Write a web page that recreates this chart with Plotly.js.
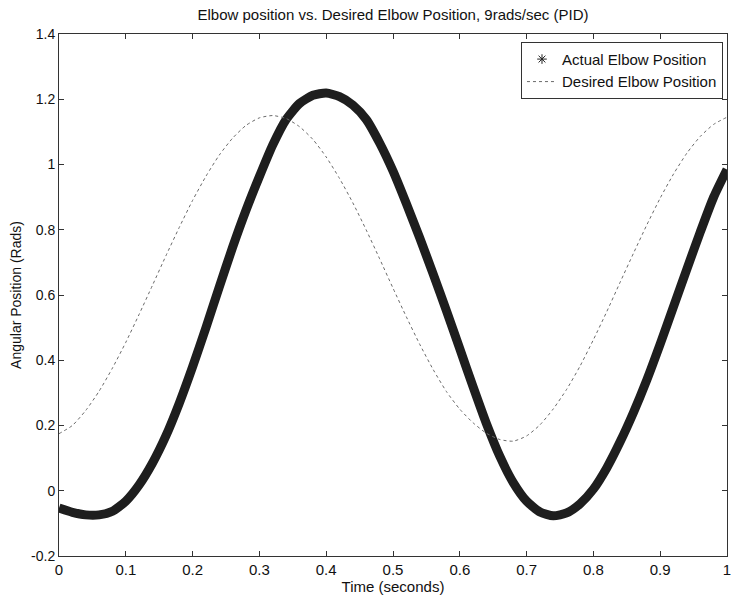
<!DOCTYPE html>
<html>
<head>
<meta charset="utf-8">
<script src="https://cdn.plot.ly/plotly-3.0.1.min.js"></script>
<style>
html,body{margin:0;padding:0;background:#fff;}
#chart{width:731px;height:604px;}
</style>
</head>
<body>
<div id="chart"></div>
<script>
// Time samples (seconds)
const time = [0,0.02,0.04,0.06,0.08,0.10,0.12,0.14,0.16,0.18,0.20,0.22,0.24,0.26,0.28,0.30,0.32,0.34,0.36,0.38,0.40,0.42,0.44,0.46,0.48,0.50,0.52,0.54,0.56,0.58,0.60,0.62,0.64,0.66,0.68,0.70,0.72,0.74,0.76,0.78,0.80,0.82,0.84,0.86,0.88,0.90,0.92,0.94,0.96,0.98,1.00];

// Actual elbow position (rads)
const actualPos = [-0.053,-0.066,-0.074,-0.074,-0.063,-0.032,0.018,0.085,0.168,0.268,0.380,0.500,0.625,0.747,0.860,0.963,1.060,1.138,1.187,1.212,1.219,1.208,1.182,1.138,1.066,0.980,0.880,0.775,0.665,0.552,0.435,0.318,0.205,0.105,0.025,-0.032,-0.065,-0.077,-0.068,-0.040,0.005,0.070,0.150,0.240,0.340,0.450,0.565,0.680,0.793,0.900,0.985];

// Desired elbow position (rads)
const desiredPos = [0.175,0.200,0.246,0.305,0.376,0.455,0.541,0.630,0.720,0.807,0.890,0.964,1.029,1.081,1.120,1.143,1.150,1.141,1.116,1.077,1.023,0.957,0.882,0.799,0.711,0.621,0.533,0.449,0.372,0.304,0.250,0.208,0.176,0.157,0.152,0.168,0.202,0.251,0.311,0.382,0.463,0.549,0.639,0.728,0.815,0.897,0.971,1.035,1.086,1.123,1.145];

const xTickVals = [0,0.1,0.2,0.3,0.4,0.5,0.6,0.7,0.8,0.9,1];
const xTickText = ['0','0.1','0.2','0.3','0.4','0.5','0.6','0.7','0.8','0.9','1'];
const yTickVals = [-0.2,0,0.2,0.4,0.6,0.8,1,1.2,1.4];
const yTickText = ['-0.2','0','0.2','0.4','0.6','0.8','1','1.2','1.4'];

const FONT = 'Arial, "Liberation Sans", sans-serif';

const traces = [
  {
    x: time, y: actualPos, type: 'scatter', mode: 'lines',
    line: {color: '#1e1e1e', width: 9, shape: 'spline', smoothing: 0.6},
    showlegend: false, hoverinfo: 'skip'
  },
  {
    x: [null], y: [null], type: 'scatter', mode: 'markers',
    name: 'Actual Elbow Position',
    marker: {symbol: 'asterisk-open', size: 8, color: '#222', line: {color: '#222', width: 1}}
  },
  {
    x: time, y: desiredPos, type: 'scatter', mode: 'lines',
    name: 'Desired Elbow Position',
    line: {color: '#6a6a6a', width: 1, dash: 'dot', shape: 'spline', smoothing: 0.6}
  }
];

const layout = {
  width: 731, height: 604,
  paper_bgcolor: '#fff', plot_bgcolor: '#fff',
  margin: {l: 59, r: 4, t: 34, b: 47.5, pad: 0},
  font: {family: FONT, size: 14, color: '#111'},
  title: {
    text: 'Elbow position vs. Desired Elbow Position, 9rads/sec (PID)',
    font: {family: FONT, size: 15, color: '#111'},
    x: 0.5, xref: 'paper', y: 0.976, yref: 'container', yanchor: 'middle'
  },
  xaxis: {
    range: [0, 1], tickvals: xTickVals, ticktext: xTickText,
    ticks: 'inside', ticklen: 5, tickcolor: '#333', tickwidth: 1,
    showline: true, linecolor: '#333', linewidth: 1, mirror: 'ticks',
    showgrid: false, zeroline: false, fixedrange: true,
    ticklabeloverflow: 'allow',
    tickfont: {family: FONT, size: 15, color: '#111'},
    title: {text: 'Time (seconds)', font: {family: FONT, size: 15, color: '#111'}, standoff: 2}
  },
  yaxis: {
    range: [-0.2, 1.4], tickvals: yTickVals, ticktext: yTickText,
    ticks: 'inside', ticklen: 5, tickcolor: '#333', tickwidth: 1,
    showline: true, linecolor: '#333', linewidth: 1, mirror: 'ticks',
    showgrid: false, zeroline: false, fixedrange: true,
    ticklabeloverflow: 'allow',
    tickfont: {family: FONT, size: 14, color: '#111'},
    title: {text: 'Angular Position (Rads)', font: {family: FONT, size: 14, color: '#111'}, standoff: 6}
  },
  legend: {
    x: 0.994, xanchor: 'right', y: 0.985, yanchor: 'top',
    bgcolor: '#fff', bordercolor: '#333', borderwidth: 1,
    font: {family: FONT, size: 15, color: '#111'},
    tracegroupgap: 0, itemwidth: 30
  },
  showlegend: true
};

Plotly.newPlot('chart', traces, layout, {displayModeBar: false, staticPlot: true});
</script>
</body>
</html>
